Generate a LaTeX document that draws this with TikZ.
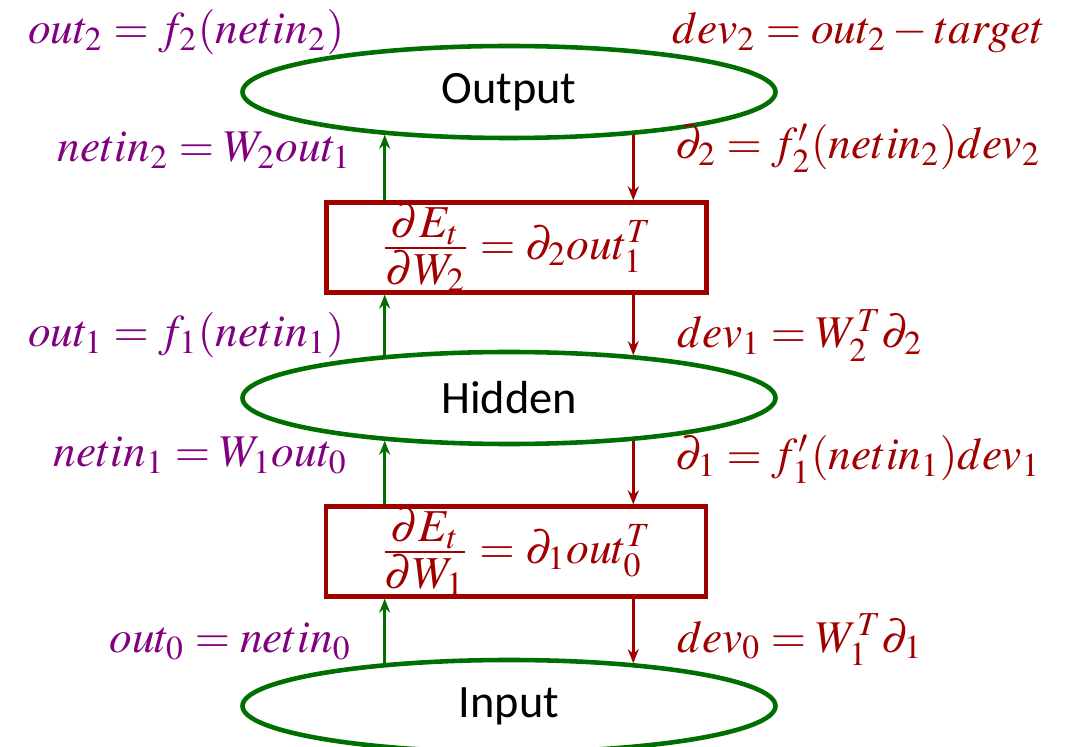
\documentclass[tikz,border=0pt]{standalone}
\usepackage{mathptmx}
\usepackage{fontspec}
\newfontfamily\layerfont{Carlito}
\usepackage{xcolor}
\definecolor{fwdpurple}{RGB}{128,0,128}
\definecolor{bwdred}{RGB}{160,0,0}
\definecolor{layergreen}{RGB}{0,110,0}
\usepackage{tikz}
\usetikzlibrary{positioning,shapes.geometric,arrows.meta,calc}

\begin{document}
\begin{tikzpicture}
        \tikzset{
          layer/.style={ellipse, draw=layergreen, fill=white, line width=1.3pt,
                         minimum width=5.33cm, minimum height=0.92cm, inner sep=0pt,
                         font=\layerfont\fontsize{13.2}{15}\selectfont},
          gradbox/.style={rectangle, draw=bwdred, line width=1.2pt,
                          minimum width=3.8cm, minimum height=0.9cm, inner sep=0pt,
                          text=bwdred, font=\fontsize{13}{16}\selectfont},
          fwdlabel/.style={text=fwdpurple, inner sep=0pt, font=\fontsize{12.9}{16}\selectfont},
          bwdlabel/.style={text=bwdred, inner sep=0pt, font=\fontsize{12.9}{16}\selectfont},
          fwd/.style={draw=layergreen, line width=0.8pt, -{Stealth[length=1.4mm,width=1.1mm]}},
          bwd/.style={draw=bwdred, line width=0.8pt, -{Stealth[length=1.4mm,width=1.1mm]}}
        }
        \useasboundingbox (0,0) rectangle (10.67,7.47);
        % Layers
        \node[layer] (output) at (5.09,6.55) {Output};
        \node[layer] (hidden) at (5.09,3.49) {Hidden};
        \node[layer] (input)  at (5.09,0.41) {Input};
        % Weight gradients
        \node[gradbox] (grad2) at (5.165,4.995)
          {$\frac{\textstyle\partial E_t}{\textstyle\partial W_2} = \partial_2 out_1^T$};
        \node[gradbox] (grad1) at (5.16,1.955)
          {$\frac{\textstyle\partial E_t}{\textstyle\partial W_1} = \partial_1 out_0^T$};
        % Forward pass (left)
        \node[fwdlabel, anchor=base east] (fo2) at (3.45,7.03) {$out_2 = f_2(netin_2)$};
        \node[fwdlabel, anchor=base east] (fn2) at (3.52,5.85) {$netin_2 = W_2 out_1$};
        \node[fwdlabel, anchor=base east] (fo1) at (3.45,4.00) {$out_1 = f_1(netin_1)$};
        \node[fwdlabel, anchor=base east] (fn1) at (3.48,2.80) {$netin_1 = W_1 out_0$};
        \node[fwdlabel, anchor=base east] (fo0) at (3.52,0.94) {$out_0 = netin_0$};
        % Backward pass (right)
        \node[bwdlabel, anchor=base west] (bd2) at (6.72,7.03) {$dev_2 = out_2 - target$};
        \node[bwdlabel, anchor=base west] (bp2) at (6.75,5.88) {$\partial_2 = f_2'(netin_2) dev_2$};
        \node[bwdlabel, anchor=base west] (bd1) at (6.77,3.99) {$dev_1 = W_2^T \partial_2$};
        \node[bwdlabel, anchor=base west] (bp1) at (6.75,2.77) {$\partial_1 = f_1'(netin_1) dev_1$};
        \node[bwdlabel, anchor=base west] (bd0) at (6.77,0.95) {$dev_0 = W_1^T \partial_1$};
        % Forward arrows
        \draw[fwd] (input.161) -- (input.161 |- grad1.south);
        \draw[fwd] (hidden.199 |- grad1.north) -- (hidden.199);
        \draw[fwd] (hidden.161) -- (hidden.161 |- grad2.south);
        \draw[fwd] (output.199 |- grad2.north) -- (output.199);
        % Backward arrows
        \draw[bwd] (output.341) -- (output.341 |- grad2.north);
        \draw[bwd] (hidden.19 |- grad2.south) -- (hidden.19);
        \draw[bwd] (hidden.341) -- (hidden.341 |- grad1.north);
        \draw[bwd] (input.19 |- grad1.south) -- (input.19);
\end{tikzpicture}
\end{document}
